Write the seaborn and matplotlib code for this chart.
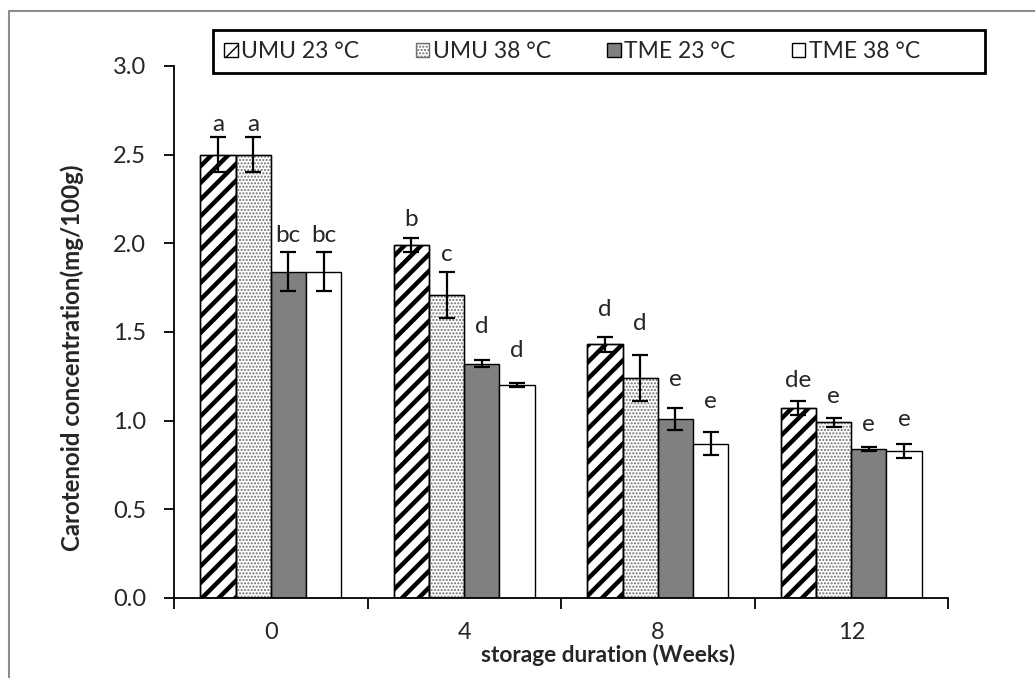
import numpy as np
import pandas as pd
import matplotlib
matplotlib.use("Agg")
import matplotlib.pyplot as plt
from matplotlib.patches import Patch, Rectangle
from matplotlib.lines import Line2D
import seaborn as sns

# Storage weeks and treatments
weeks = ["0", "4", "8", "12"]
treatments = ["UMU 23 °C", "UMU 38 °C", "TME 23 °C", "TME 38 °C"]

# Mean carotenoid concentration (mg/100g) per treatment, one value per week
umu_23 = [2.50, 1.99, 1.43, 1.07]
umu_38 = [2.50, 1.71, 1.24, 0.99]
tme_23 = [1.84, 1.32, 1.01, 0.84]
tme_38 = [1.84, 1.20, 0.87, 0.83]

# Standard errors
umu_23_err = [0.10, 0.04, 0.04, 0.04]
umu_38_err = [0.10, 0.13, 0.13, 0.025]
tme_23_err = [0.11, 0.02, 0.06, 0.013]
tme_38_err = [0.11, 0.01, 0.065, 0.04]

# Significance letters
umu_23_sig = ["a", "b", "d", "de"]
umu_38_sig = ["a", "c", "d", "e"]
tme_23_sig = ["bc", "d", "e", "e"]
tme_38_sig = ["bc", "d", "e", "e"]

means = [umu_23, umu_38, tme_23, tme_38]
errs = [umu_23_err, umu_38_err, tme_23_err, tme_38_err]
sigs = [umu_23_sig, umu_38_sig, tme_23_sig, tme_38_sig]

df = pd.DataFrame(
    [(w, t, means[i][j]) for i, t in enumerate(treatments) for j, w in enumerate(weeks)],
    columns=["week", "treatment", "carotenoid"],
)

sns.set_style("white")
FONT = ["Lato", "DejaVu Sans"]
plt.rcParams["font.family"] = FONT

W, H = 1035, 678
fig = plt.figure(figsize=(W / 100, H / 100), dpi=100)
ax = fig.add_axes([174 / W, 1 - 598 / H, (948 - 174) / W, (598 - 66) / H])

face = {"UMU 23 °C": "white", "UMU 38 °C": "white", "TME 23 °C": "#808080", "TME 38 °C": "white"}
sns.barplot(
    data=df, x="week", y="carotenoid", hue="treatment",
    order=weeks, hue_order=treatments, palette=face,
    width=0.727, errorbar=None, legend=False, ax=ax,
    edgecolor="black", linewidth=1.0, saturation=1,
)

styles = [
    dict(hatch="//", hcolor="black", hlw=3.2),
    dict(hatch=".....", hcolor="#6e6e6e", hlw=1.0),
    dict(hatch=None, hcolor="black", hlw=1.0),
    dict(hatch=None, hcolor="black", hlw=1.0),
]

# letter lift above each error bar, in pixels
lift = [[6, 6, 10, 10], [12, 11, 27, 26], [21, 25, 22, 24], [14, 15, 16, 18]]

bar_containers = list(ax.containers)
for i, cont in enumerate(bar_containers):
    st = styles[i]
    xs = []
    for bar in cont:
        if st["hatch"]:
            bar.set_hatch(st["hatch"])
            bar.set_edgecolor(st["hcolor"])
            if hasattr(bar, "set_hatch_linewidth"):
                bar.set_hatch_linewidth(st["hlw"])
            bb = bar.get_bbox()
            ax.add_patch(Rectangle((bb.x0, bb.y0), bb.width, bb.height,
                                   fill=False, edgecolor="black", linewidth=1.0,
                                   zorder=bar.get_zorder() + 0.1))
        xs.append(bar.get_x() + bar.get_width() / 2)
    ax.errorbar(xs, means[i], yerr=errs[i], fmt="none", ecolor="black",
                elinewidth=1.6, capsize=5.5, capthick=1.6, zorder=5)
    for j, x in enumerate(xs):
        ax.annotate(sigs[i][j], (x, means[i][j] + errs[i][j]), xytext=(0, lift[j][i]),
                    textcoords="offset pixels", ha="center", va="baseline",
                    fontsize=17.5, family=FONT)

ax.set_ylim(0, 3.0)
ax.set_xlim(-0.5, 3.5)
yt = np.arange(0, 3.01, 0.5)
ax.set_yticks(yt)
ax.set_yticklabels([f"{v:.1f}" for v in yt])
ax.set_xticks(range(len(weeks)))
ax.set_xticklabels(weeks)
ax.set_xticks(np.arange(-0.5, 3.6, 1.0), minor=True)
ax.tick_params(axis="x", which="major", length=0, pad=17, labelsize=17)
ax.tick_params(axis="x", which="minor", length=8, width=1.3, direction="out", color="black", bottom=True)
ax.tick_params(axis="y", length=7, width=1.3, direction="out", color="black", pad=13, labelsize=17, left=True)

for s in ["top", "right"]:
    ax.spines[s].set_visible(False)
for s in ["left", "bottom"]:
    ax.spines[s].set_color("black")
    ax.spines[s].set_linewidth(1.3)

ax.set_xlabel("storage duration (Weeks)", fontsize=16.3, fontweight="bold", va="top")
ax.xaxis.set_label_coords((608 - 174) / 774, (598 - 644) / 532)
ax.set_ylabel("Carotenoid concentration(mg/100g)", fontsize=17.3, fontweight="bold")
ax.yaxis.set_label_coords((84 - 174) / 774, (598 - 358) / 532)

# legend entries, with a separate box around them
handles = []
for i, t in enumerate(treatments):
    st = styles[i]
    handles.append(Patch(facecolor=face[t], edgecolor=st["hcolor"] if st["hatch"] else "black",
                         hatch=st["hatch"], linewidth=1.0, label=t))
leg = fig.legend(
    handles=handles, loc="center left", ncol=4, mode="expand",
    bbox_to_anchor=(224 / W, 1 - 73 / H, (920 - 224) / W, (73 - 30) / H),
    frameon=False, fontsize=16.5, handlelength=0.6, handleheight=0.6,
    handletextpad=0.15, borderaxespad=0, borderpad=0, columnspacing=1.0,
)
fig.add_artist(Rectangle((213 / W, 1 - 73 / H), (985 - 213) / W, (73 - 30) / H,
                         transform=fig.transFigure, fill=False, edgecolor="black", linewidth=2.0))

# outer frame (top and left edges)
fig.add_artist(Line2D([9 / W, 9 / W], [0, 1 - 11 / H], transform=fig.transFigure,
                      color="#8c8c8c", linewidth=1.5))
fig.add_artist(Line2D([9 / W, 1], [1 - 11 / H, 1 - 11 / H], transform=fig.transFigure,
                      color="#8c8c8c", linewidth=1.5))

fig.savefig("out.png", dpi=100)
